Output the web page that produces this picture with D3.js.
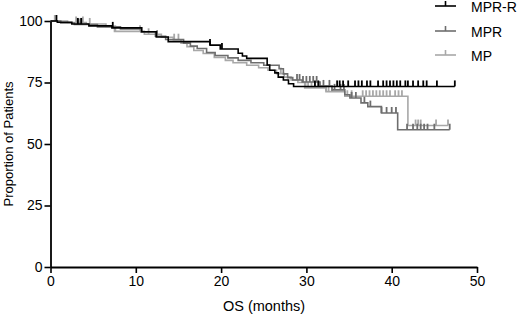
<!DOCTYPE html>
<html><head><meta charset="utf-8">
<script src="https://cdn.jsdelivr.net/npm/d3@7"></script>
<style>body{margin:0;background:#fff}svg{display:block}text{font-family:Arial,"Liberation Sans",sans-serif}</style>
</head><body>
<svg id="c" width="520" height="315"></svg>
<script>
const seriesNames = ["MPR-R", "MPR", "MP"];
const seriesColors = ["#000000", "#6e6e6e", "#a8a8a8"];
const xTicks = [0, 10, 20, 30, 40, 50];
const yTicks = [0, 25, 50, 75, 100];

// step points [months, % surviving]
const mprrSteps = [[0,100],[0.8,99.5],[2.5,98.8],[4.5,98],[7.2,97.2],[10.7,95.6],[12.4,93.5],[13.8,91.6],[18.7,90.2],[19.9,88.6],[22,86.9],[22.5,85.8],[23,84.8],[25.4,82.1],[25.7,80],[26.3,78.9],[26.7,77.2],[27.3,76],[27.9,74.5],[28.5,73.4]];
const mprrEnd = 47.4;
const mprrCensor = [0.7,3.2,3.6,7.3,18.7,20.1,31,31.4,33.6,33.9,34.3,34.9,35.7,36.1,36.5,37.1,37.5,38.4,39,39.4,39.8,40.2,40.6,41,41.6,41.9,42.5,43.1,43.7,44.1,45.3,47.4];

const mprSteps = [[0,100],[1.2,99.2],[2.8,98.6],[5.5,97.6],[8.2,96.8],[10.6,95.5],[12.3,93.8],[13.5,92.5],[15.6,91],[16.4,89.8],[17.2,88.8],[18.3,87.2],[19.3,86],[20.8,85],[22,84],[23.5,83],[25,82],[26.8,80.6],[27.3,78.5],[27.8,77],[28.4,76],[29.5,75.2],[31.6,73.6],[33,72],[34.5,70],[35.1,68.7],[36.4,66.7],[37.2,65.2],[38.8,62.6],[40.7,55.8]];
const mprEnd = 46.8;
const mprCensor = [3.3,3.6,12.5,28.9,29.2,29.6,30,30.4,30.8,31.2,32,32.7,33.3,34,34.4,35.3,35.8,36.8,37.5,38.8,39.4,40,40.5,41.8,42.5,43,43.4,43.8,44.2,45,46.8];

const mpSteps = [[0,100],[2,99.4],[4.2,98.8],[6.5,97.8],[7.5,95.8],[11,94.6],[13,93.4],[14.4,92.4],[15.3,91],[16,89.6],[16.8,88],[17.9,86.8],[19.2,85.2],[20.5,84],[21.4,83],[23,82],[24.4,81],[25.5,80],[26.5,78.6],[27.4,77.2],[28.2,76],[29,75],[29.8,72.8],[32.3,71.3],[34.5,69.4],[41.9,57.5]];
const mpEnd = 46.6;
const mpCensor = [0.5,3,3.8,4.6,7.6,10.5,11.5,14.5,15,27,29.9,30.2,30.6,31,31.4,32.3,32.6,33,34.8,35.3,36.6,37,37.4,37.8,38.2,38.6,39,39.4,39.8,40.4,40.8,41.2,42.8,43.1,43.4,45.2,46.6];

const series = [
  {steps: mprrSteps, end: mprrEnd, censor: mprrCensor},
  {steps: mprSteps, end: mprEnd, censor: mprCensor},
  {steps: mpSteps, end: mpEnd, censor: mpCensor}
];

const svg = d3.select("#c");
const x = d3.scaleLinear().domain([0, 50]).range([50.5, 477]);
const y = d3.scaleLinear().domain([0, 100]).range([267, 21]);

function valueAt(steps, t) {
  let v = steps[0][1];
  for (const s of steps) { if (s[0] <= t) v = s[1]; }
  return v;
}

const order = [2, 1, 0];
order.forEach(i => {
  const s = series[i];
  const pts = s.steps.slice();
  pts.push([s.end, s.steps[s.steps.length - 1][1]]);
  const line = d3.line().x(d => x(d[0])).y(d => y(d[1])).curve(d3.curveStepAfter);
  svg.append("path").attr("d", line(pts)).attr("fill", "none")
    .attr("stroke", seriesColors[i]).attr("stroke-width", 1.6);
  svg.append("g").selectAll("line").data(s.censor).join("line")
    .attr("x1", d => x(d)).attr("x2", d => x(d))
    .attr("y1", d => y(valueAt(s.steps, d))).attr("y2", d => y(valueAt(s.steps, d)) - 6)
    .attr("stroke", seriesColors[i]).attr("stroke-width", 1.8);
});

const xAxis = svg.append("g").attr("transform", "translate(0,267)")
  .call(d3.axisBottom(x).tickValues(xTicks).tickSize(6).tickPadding(3).tickSizeOuter(0));
const yAxis = svg.append("g").attr("transform", "translate(50.5,0)")
  .call(d3.axisLeft(y).tickValues(yTicks).tickSize(6).tickPadding(2).tickSizeOuter(0));
[xAxis, yAxis].forEach(g => {
  g.select(".domain").attr("stroke", "#000").attr("stroke-width", 1.8);
  g.selectAll(".tick line").attr("stroke", "#000").attr("stroke-width", 1.6);
  g.selectAll(".tick text").attr("fill", "#000").style("font-size", "14px")
    .style("font-family", "Arial, 'Liberation Sans', sans-serif");
});

svg.append("text").attr("x", 264).attr("y", 311).attr("text-anchor", "middle")
  .style("font-size", "14.5px").text("OS (months)");
svg.append("text").attr("transform", "translate(13,144) rotate(-90)").attr("text-anchor", "middle")
  .style("font-size", "13px").text("Proportion of Patients");

const legY = [6, 31, 55];
seriesNames.forEach((n, i) => {
  const g = svg.append("g");
  g.append("line").attr("x1", 435).attr("x2", 456).attr("y1", legY[i]).attr("y2", legY[i])
    .attr("stroke", seriesColors[i]).attr("stroke-width", 1.6);
  g.append("line").attr("x1", 445.5).attr("x2", 445.5).attr("y1", legY[i]).attr("y2", legY[i] - 5)
    .attr("stroke", seriesColors[i]).attr("stroke-width", 1.6);
  g.append("text").attr("x", 471).attr("y", legY[i] + 6).style("font-size", "14px")
    .attr("fill", "#000").text(n);
});
</script>
</body></html>
